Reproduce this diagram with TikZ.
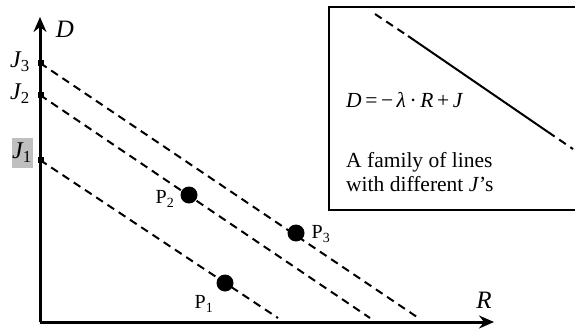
\documentclass[tikz,border=0pt]{standalone}
\usepackage{fontspec}
\setmainfont{Liberation Serif}
\usetikzlibrary{arrows.meta}
\begin{document}
\begin{tikzpicture}[x=1pt,y=-1pt,
  axis/.style={line width=3pt,-{Stealth[length=15pt,width=13pt,inset=5pt]}},
  famline/.style={line width=2pt,dash pattern=on 8pt off 5.5pt},
  tickmark/.style={fill=black,inner sep=0pt,minimum size=5.5pt},
  ptdot/.style={circle,fill=black,inner sep=0pt,minimum size=17pt},
  lbl/.style={font=\fontsize{24}{26}\selectfont,inner sep=1pt},
  plbl/.style={font=\fontsize{20}{22}\selectfont,inner sep=1pt},
  txt/.style={font=\fontsize{21.5}{24}\selectfont,inner sep=0pt,align=left}]
\useasboundingbox (0,0) rectangle (575,329);
% axes
\coordinate (O) at (40,322);
\coordinate (Ytop) at (40,17);
\coordinate (Xend) at (494,322);
\draw[axis] (O) -- (Ytop);
\draw[axis] (O) -- (Xend);
\node[lbl,font=\fontsize{25}{26}\selectfont\itshape] (Dl) at (65,29) {D};
\node[lbl,font=\fontsize{25}{26}\selectfont\itshape] (Rl) at (484,300) {R};
% intercepts
\coordinate (J1) at (40,160);
\coordinate (J2) at (40,95);
\coordinate (J3) at (40,63);
\coordinate (E1) at (278,318);
\coordinate (E2) at (370,318);
\coordinate (E3) at (417,317);
\draw[famline] (J1) -- (E1);
\draw[famline] (J2) -- (E2);
\draw[famline] (J3) -- (E3);
\node[tickmark] (t1) at ([xshift=1pt]J1) {};
\node[tickmark] (t2) at ([xshift=1pt]J2) {};
\node[tickmark] (t3) at ([xshift=1pt]J3) {};
\node[lbl] (J3l) at (20,62) {\itshape J\textsubscript{\upshape 3}};
\node[lbl] (J2l) at (20,94) {\itshape J\textsubscript{\upshape 2}};
\node[lbl,fill=black!25,minimum width=21pt,minimum height=30pt,inner sep=0pt] (J1l) at (22,153) {\itshape J\textsubscript{\upshape 1}};
% points
\node[ptdot] (P1) at (225,283) {};
\node[ptdot] (P2) at (189,195) {};
\node[ptdot] (P3) at (296,233) {};
\node[plbl] (P1l) at (204,304) {P\textsubscript{1}};
\node[plbl] (P2l) at (165,199) {P\textsubscript{2}};
\node[plbl] (P3l) at (321,234) {P\textsubscript{3}};
% inset box
\draw[line width=2pt] (578,7.5) -- (329,7.5) -- (329,210) -- (578,210);
\coordinate (La) at (375,14);
\coordinate (Lb) at (408,36);
\coordinate (Lc) at (548,132);
\coordinate (Ld) at (573,149);
\draw[line width=2pt,dash pattern=on 8pt off 5.5pt] (La) -- (Lb);
\draw[line width=2pt] (Lb) -- (Lc);
\draw[line width=2pt,dash pattern=on 8pt off 5.5pt] (Lc) -- (Ld);
\node[txt,anchor=west] (eq) at (346,100) {\itshape D\upshape\,=\,−\,\itshape λ\upshape\,·\,\itshape R\upshape\,+\,\itshape J};
\node[txt,anchor=west] (fam) at (346,172) {A family of lines\\with different \textit{J}’s};
\end{tikzpicture}
\end{document}
